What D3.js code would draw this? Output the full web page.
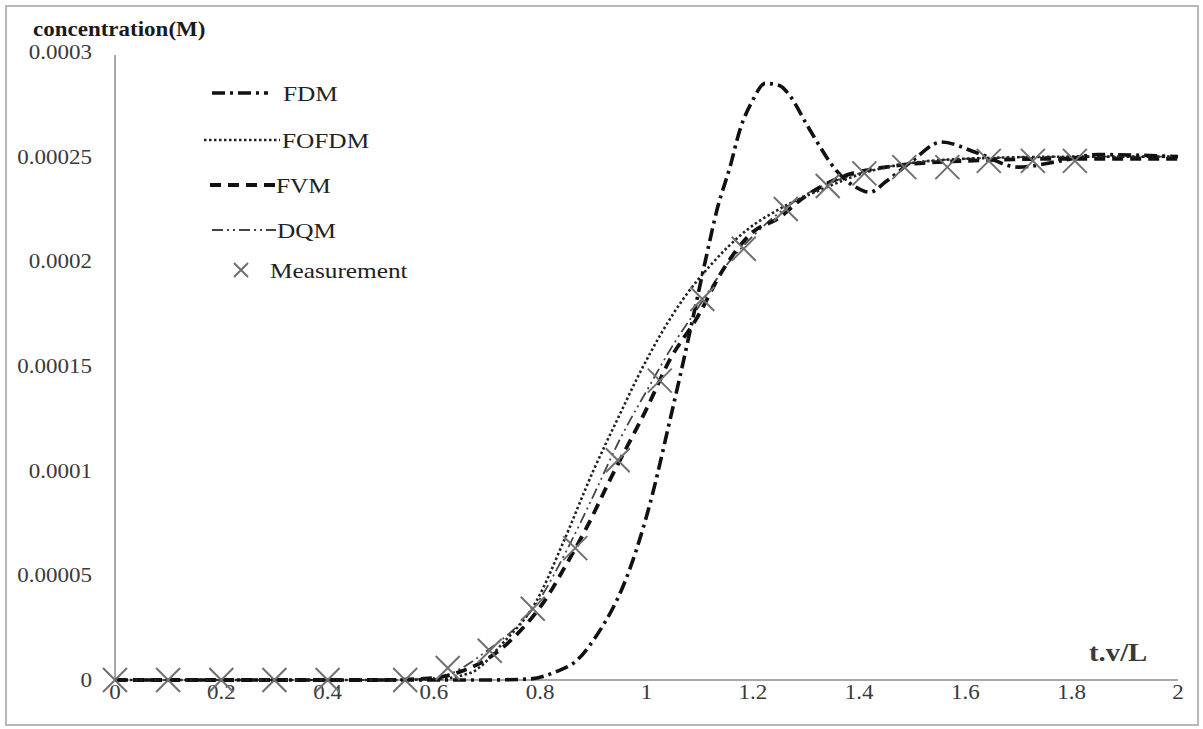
<!DOCTYPE html>
<html>
<head>
<meta charset="utf-8">
<script src="https://cdn.jsdelivr.net/npm/d3@7"></script>
<style>
  body { margin: 0; background: #fff; }
  text { font-family: "Liberation Serif", "Times New Roman", serif; }
</style>
</head>
<body>
<svg id="chart" width="1203" height="729"></svg>
<script>
// values
const xTicks = [0, 0.2, 0.4, 0.6, 0.8, 1, 1.2, 1.4, 1.6, 1.8, 2];
const yTicks = [0, 0.00005, 0.0001, 0.00015, 0.0002, 0.00025, 0.0003];
const yTickLabels = ["0", "0.00005", "0.0001", "0.00015", "0.0002", "0.00025", "0.0003"];

const fdmX = [0, 0.4, 0.7, 0.78, 0.83, 0.87, 0.9, 0.97, 1.007, 1.044, 1.063, 1.09, 1.114, 1.133, 1.157, 1.176, 1.2, 1.223, 1.25, 1.27, 1.3, 1.321, 1.355, 1.39, 1.42, 1.45, 1.5, 1.555, 1.62, 1.7, 1.78, 1.85, 2];
const fdmY = [0, 0, 0, 0.0000005, 0.000004, 0.0000096, 0.000019, 0.000054, 0.0000846, 0.000124, 0.000145, 0.000176, 0.000204, 0.000225, 0.000245, 0.000263, 0.000277, 0.000285, 0.000284, 0.000279, 0.000266, 0.000257, 0.000244, 0.000236, 0.000233, 0.000238, 0.000248, 0.000257, 0.000252, 0.000245, 0.000248, 0.000251, 0.00025];

const fofdmX = [0, 0.5, 0.6, 0.668, 0.73, 0.794, 0.843, 0.9, 0.95, 0.988, 1.069, 1.12, 1.189, 1.25, 1.326, 1.42, 1.5, 1.6, 1.8, 2];
const fofdmY = [0, 0, 0.0000003, 0.0000033, 0.0000177, 0.0000382, 0.0000655, 0.0001, 0.000127, 0.000147, 0.000182, 0.000198, 0.000215, 0.000225, 0.000234, 0.000243, 0.000247, 0.000249, 0.00025, 0.00025];

const fvmX = [0, 0.5, 0.6, 0.65, 0.7, 0.749, 0.818, 0.843, 0.888, 0.931, 1.001, 1.044, 1.095, 1.144, 1.2, 1.251, 1.283, 1.364, 1.45, 1.6, 1.8, 2];
const fvmY = [0, 0, 0.000001, 0.000004, 0.000010, 0.00002, 0.0000416, 0.0000525, 0.0000731, 0.0000955, 0.00013, 0.000153, 0.000173, 0.000196, 0.000214, 0.000221, 0.000228, 0.00024, 0.000245, 0.000248, 0.000249, 0.000249];

const dqmX = [0, 0.5, 0.6, 0.7, 0.8, 0.85, 0.9, 0.95, 1.0, 1.05, 1.1, 1.15, 1.2, 1.3, 1.4, 1.5, 1.6, 1.8, 2];
const dqmY = [0, 0, 0.000001, 0.000014, 0.000039, 0.000062, 0.000088, 0.000115, 0.000138, 0.00016, 0.000179, 0.000198, 0.000212, 0.000232, 0.000242, 0.000247, 0.000249, 0.00025, 0.00025];

const measX = [0, 0.1, 0.2, 0.3, 0.4, 0.546, 0.626, 0.705, 0.786, 0.866, 0.946, 1.025, 1.105, 1.183, 1.262, 1.341, 1.41, 1.485, 1.566, 1.644, 1.727, 1.806];
const measY = [0, 0, 0, 0, 0, 0, 0.0000057, 0.000014, 0.000034, 0.000063, 0.000105, 0.000143, 0.000182, 0.000206, 0.000225, 0.000236, 0.000242, 0.000245, 0.000245, 0.000248, 0.000248, 0.000248];

const seriesNames = ["FDM", "FOFDM", "FVM", "DQM", "Measurement"];

const svg = d3.select("#chart");
const stretch = 1.15; // the source picture's text is a little wider than Liberation Serif

function addText(g, x0, y0, str, size, opts) {
    opts = opts || {};
    return g.append("text")
        .attr("transform", `translate(${x0},${y0}) scale(${stretch},1)`)
        .attr("text-anchor", opts.anchor || "start")
        .attr("font-size", size)
        .attr("font-weight", opts.weight || "normal")
        .attr("fill", opts.fill || "#333")
        .text(str);
}

// outer frame
svg.append("rect")
    .attr("x", 6).attr("y", 6)
    .attr("width", 1192).attr("height", 719)
    .attr("fill", "none")
    .attr("stroke", "#b8b8b8")
    .attr("stroke-width", 2);

const x = d3.scaleLinear().domain([0, 2]).range([115, 1178]);
const y = d3.scaleLinear().domain([0, 0.0003]).range([680, 52]);

// axes
svg.append("line")
    .attr("x1", x(0)).attr("x2", x(2))
    .attr("y1", y(0)).attr("y2", y(0))
    .attr("stroke", "#a8a8a8").attr("stroke-width", 2);
svg.append("line")
    .attr("x1", x(0)).attr("x2", x(0))
    .attr("y1", y(0)).attr("y2", y(0.0003) + 3)
    .attr("stroke", "#a8a8a8").attr("stroke-width", 2);

xTicks.forEach(d => addText(svg, x(d), 699, d, 20, { anchor: "middle", fill: "#3a3a3a" }));
yTicks.forEach((d, i) => addText(svg, 92, y(d) + 7, yTickLabels[i], 20, { anchor: "end", fill: "#3a3a3a" }));

addText(svg, 33, 36, "concentration(M)", 20, { weight: "bold", fill: "#1a1a1a" });
addText(svg, 1089, 661, "t.v/L", 25, { weight: "bold", fill: "#3a3a3a" });

// curves
const styles = {
    FDM:   { w: 3.6, dash: "13,5,3,5", color: "#111" },
    FOFDM: { w: 2.6, dash: "2.5,2.5", color: "#222" },
    FVM:   { w: 3.8, dash: "11,7", color: "#111" },
    DQM:   { w: 1.8, dash: "11,4,2,4,2,4", color: "#444" }
};

const line = d3.line()
    .x(d => x(d[0]))
    .y(d => y(d[1]))
    .curve(d3.curveMonotoneX);

const curves = [
    ["DQM", dqmX, dqmY],
    ["FVM", fvmX, fvmY],
    ["FOFDM", fofdmX, fofdmY],
    ["FDM", fdmX, fdmY]
];

curves.forEach(c => {
    const s = styles[c[0]];
    svg.append("path")
        .datum(d3.zip(c[1], c[2]))
        .attr("d", line)
        .attr("fill", "none")
        .attr("stroke", s.color)
        .attr("stroke-width", s.w)
        .attr("stroke-dasharray", s.dash);
});

// measurement crosses
const cross = (g, cx, cy, r) => {
    g.append("path")
        .attr("d", `M${cx - r},${cy - r}L${cx + r},${cy + r}M${cx - r},${cy + r}L${cx + r},${cy - r}`)
        .attr("stroke", "#707070")
        .attr("stroke-width", 2)
        .attr("fill", "none");
};

const meas = svg.append("g");
d3.zip(measX, measY).forEach(d => cross(meas, x(d[0]), y(d[1]), 12));

// legend
const legY = [93, 140, 185, 230, 270];
const legTextX = [283, 282, 276, 277, 270];
const legLine = [[212, 268], [204, 280], [210, 276], [212, 276]];
const legend = svg.append("g");
seriesNames.forEach((name, i) => {
    if (name === "Measurement") {
        cross(legend, 241, legY[i], 7);
    } else {
        const s = styles[name];
        legend.append("line")
            .attr("x1", legLine[i][0]).attr("x2", legLine[i][1])
            .attr("y1", legY[i]).attr("y2", legY[i])
            .attr("stroke", s.color)
            .attr("stroke-width", s.w)
            .attr("stroke-dasharray", s.dash);
    }
    addText(legend, legTextX[i], legY[i] + 8, name, 22, { fill: "#222" });
});
</script>
</body>
</html>
